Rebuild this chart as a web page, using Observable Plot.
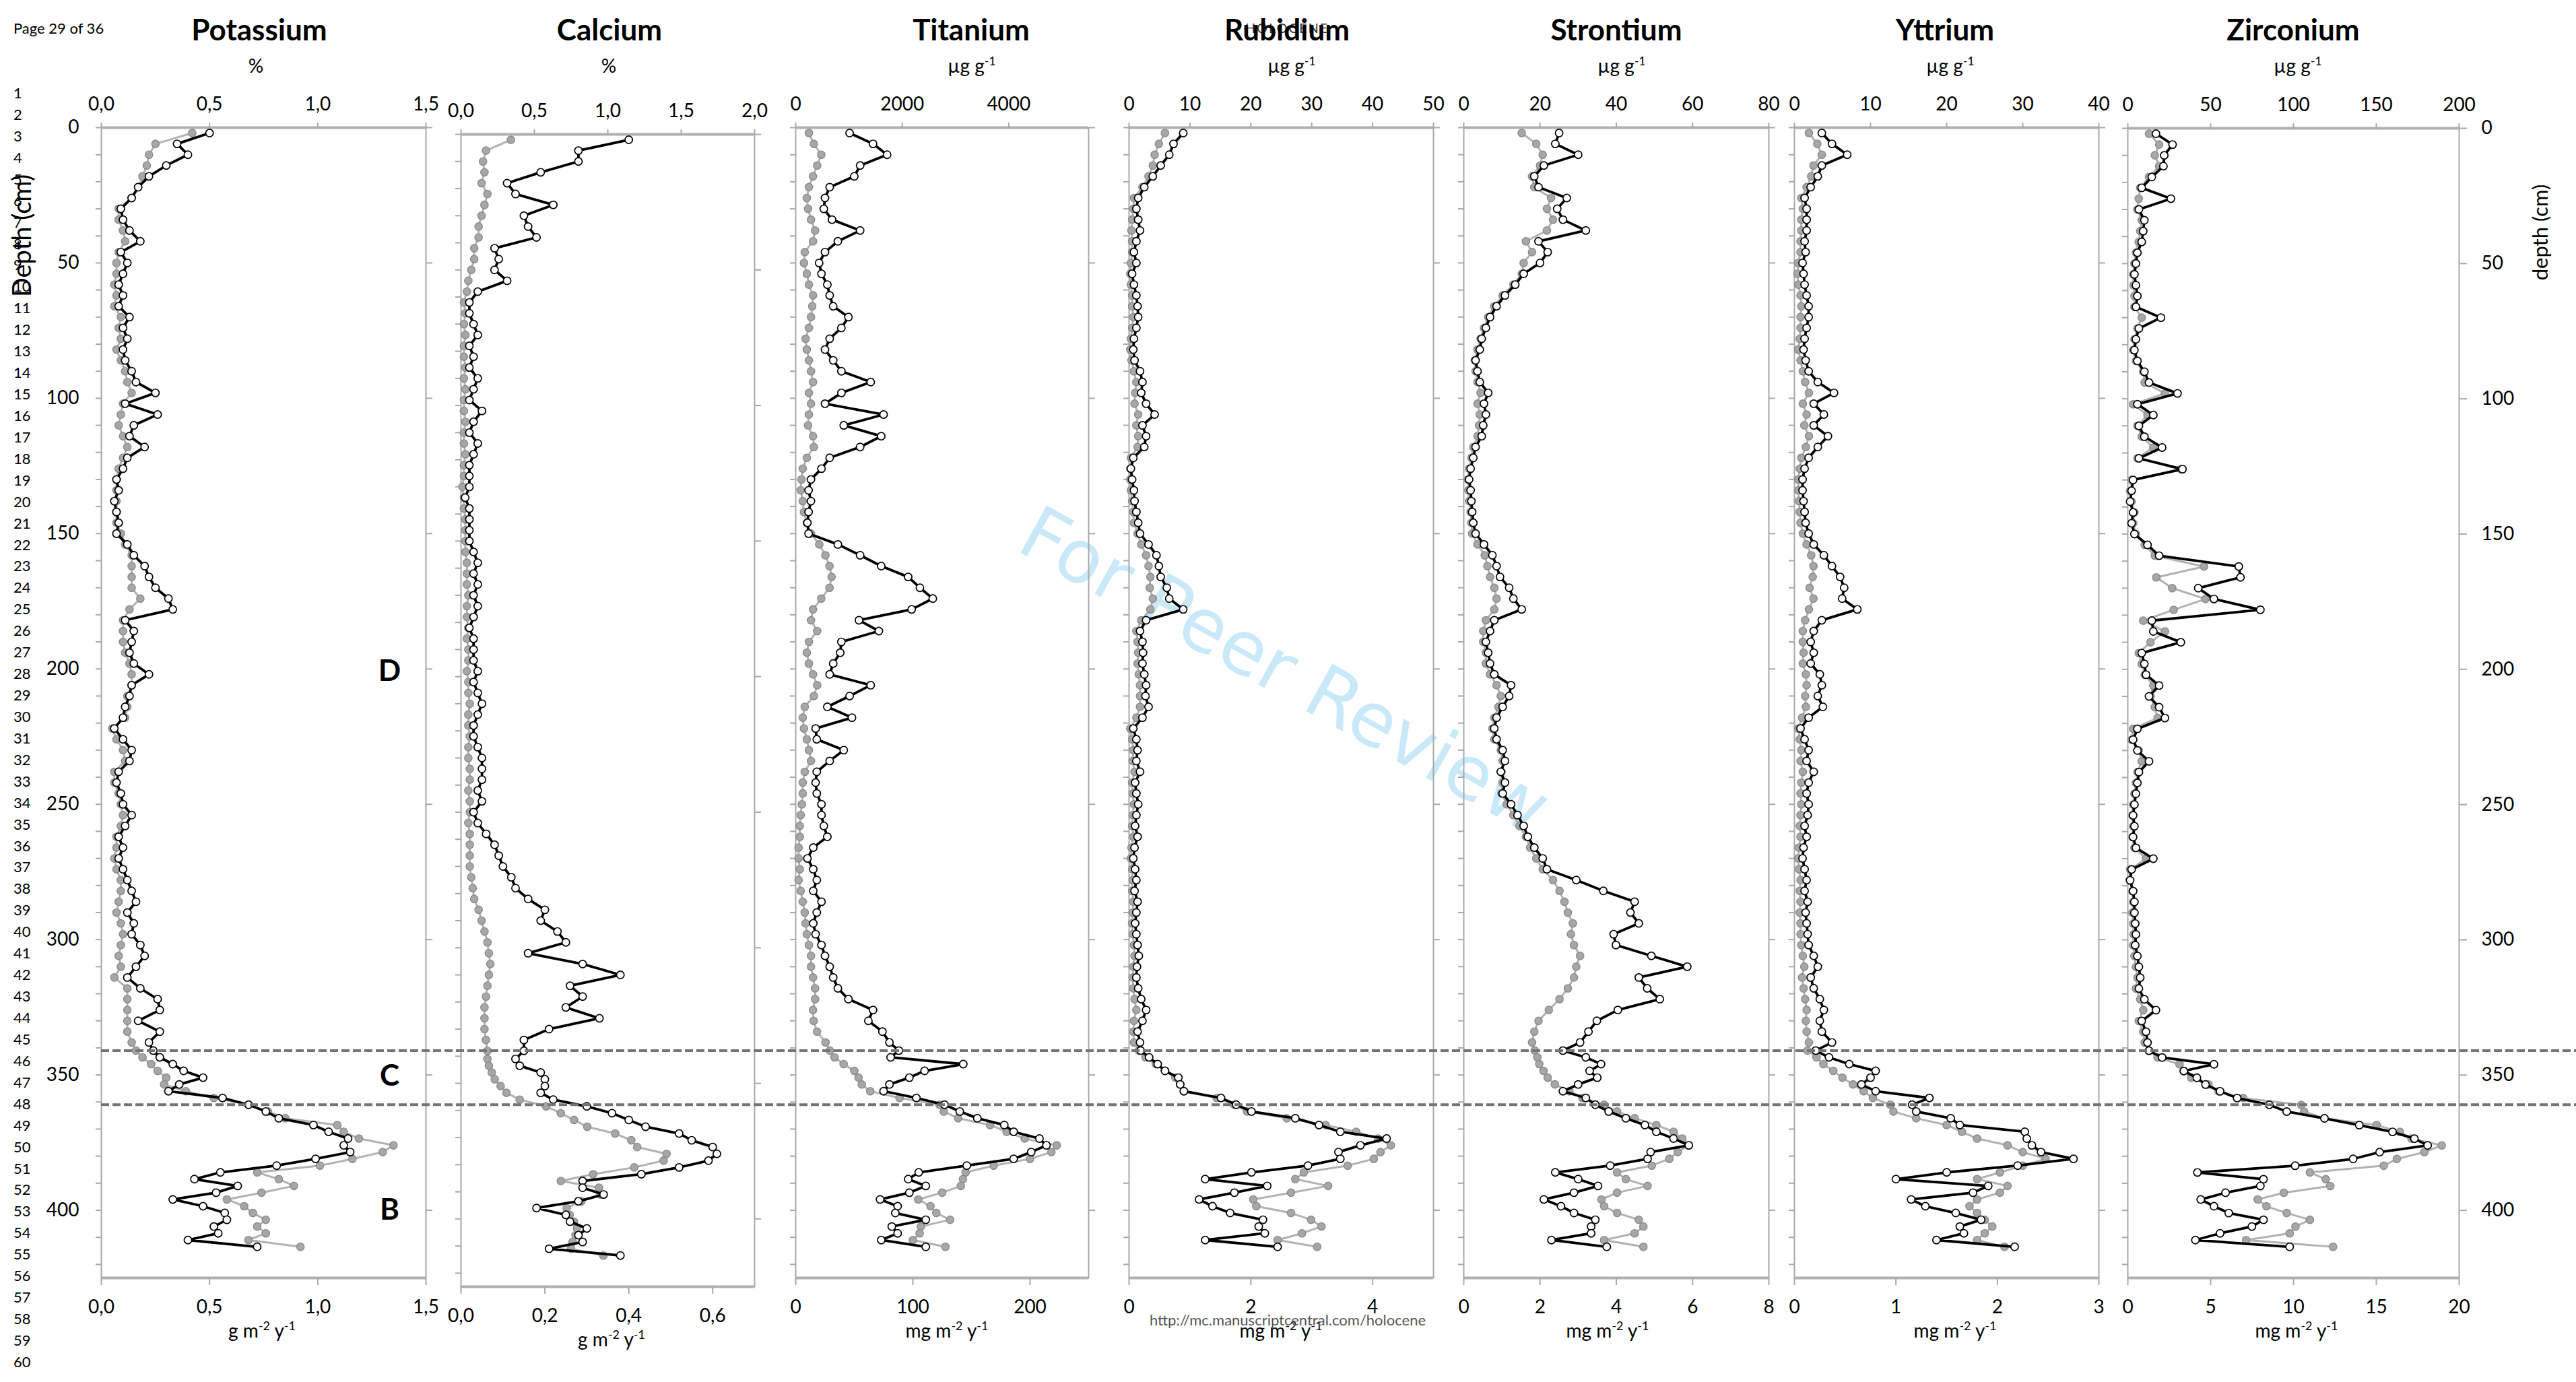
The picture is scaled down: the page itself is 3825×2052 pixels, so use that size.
<!DOCTYPE html>
<html>
<head>
<meta charset="utf-8">
<script src="https://cdn.jsdelivr.net/npm/d3@7"></script>
<script src="https://cdn.jsdelivr.net/npm/@observablehq/plot@0.6"></script>
<style>
html, body { margin:0; padding:0; background:#fff; }
#page { position:relative; width:3825px; height:2052px; overflow:hidden; background:#fff; }
#page > svg { position:absolute; margin:0; max-width:none; }
</style>
</head>
<body>
<div id="page"></div>
<script>
// ---------------- DATA ----------------
const depth = [2,6,10,14,18,22,26,30,34,38,42,46,50,54,58,62,66,70,74,78,82,86,90,94,98,102,106,110,114,118,122,126,130,134,138,142,146,150,154,158,162,166,170,174,178,182,186,190,194,198,202,206,210,214,218,222,226,230,234,238,242,246,250,254,258,262,266,270,274,278,282,286,290,294,298,302,306,310,314,318,322,326,330,334,338,
  341,343.5,346,348.5,351,353.5,356,358.5,361,363.5,366,368.5,371,373.5,376,378.5,381,383.5,386,388.5,391,393.5,396,398.5,401,403.5,406,408.5,411,413.5];

// grey = concentration (top axis), black = flux (bottom axis)
const potassiumConc = [0.42,0.25,0.22,0.21,0.19,0.17,0.14,0.08,0.08,0.10, 0.11,0.08,0.07,0.07,0.06,0.07,0.06,0.09,0.08,0.09, 0.07,0.09,0.11,0.12,0.14,0.10,0.09,0.08,0.10,0.12, 0.10,0.08,0.07,0.07,0.07,0.07,0.07,0.09,0.11,0.14, 0.14,0.14,0.14,0.18,0.13,0.10,0.10,0.10,0.11,0.13, 0.14,0.14,0.12,0.12,0.11,0.05,0.07,0.10,0.11,0.06, 0.06,0.08,0.09,0.10,0.09,0.07,0.07,0.06,0.07,0.09, 0.09,0.08,0.07,0.09,0.10,0.09,0.08,0.09,0.06,0.12, 0.12,0.12,0.12,0.12,0.14,
  0.16,0.19,0.23,0.26,0.30,0.29,0.39,0.52,0.68,0.77, 0.85,1.09,1.12,1.19,1.35,1.30,1.16,1.01,0.72,0.82, 0.89,0.74,0.58,0.66,0.70,0.76,0.72,0.76,0.68,0.92];
const potassiumFlux = [0.50,0.35,0.40,0.30,0.22,0.17,0.14,0.09,0.10,0.13, 0.18,0.09,0.12,0.10,0.08,0.10,0.08,0.13,0.10,0.12, 0.10,0.11,0.14,0.16,0.25,0.11,0.26,0.15,0.13,0.20, 0.12,0.10,0.07,0.08,0.06,0.07,0.08,0.07,0.12,0.15, 0.20,0.22,0.25,0.31,0.33,0.11,0.15,0.14,0.13,0.15, 0.22,0.14,0.13,0.11,0.10,0.06,0.10,0.14,0.13,0.08, 0.07,0.09,0.10,0.14,0.11,0.08,0.10,0.08,0.10,0.12, 0.14,0.16,0.12,0.15,0.14,0.18,0.20,0.16,0.12,0.18, 0.26,0.27,0.17,0.27,0.22,
  0.24,0.27,0.33,0.38,0.47,0.36,0.31,0.56,0.68,0.76, 0.82,0.98,1.05,1.14,1.12,1.15,0.99,0.81,0.55,0.43, 0.63,0.53,0.33,0.47,0.57,0.58,0.52,0.54,0.40,0.72];

const calciumConc = [0.34,0.17,0.15,0.16,0.14,0.18,0.16,0.14,0.12,0.12, 0.09,0.09,0.07,0.05,0.04,0.02,0.03,0.02,0.03,0.02, 0.02,0.03,0.02,0.03,0.02,0.02,0.03,0.02,0.02,0.03, 0.02,0.02,0.01,0.02,0.02,0.03,0.03,0.03,0.03,0.04, 0.04,0.04,0.05,0.04,0.04,0.05,0.04,0.05,0.05,0.04, 0.05,0.05,0.06,0.05,0.05,0.06,0.05,0.05,0.06,0.06, 0.05,0.06,0.06,0.05,0.06,0.06,0.06,0.06,0.07,0.08, 0.09,0.12,0.14,0.16,0.18,0.19,0.20,0.19,0.18,0.17, 0.16,0.16,0.16,0.17,0.18,
  0.18,0.19,0.21,0.23,0.27,0.31,0.40,0.58,0.68,0.77, 0.86,1.05,1.16,1.20,1.40,1.38,1.18,0.90,0.68,0.94, 0.95,0.82,0.72,0.74,0.77,0.79,0.78,0.76,0.75,0.97];
const calciumFlux = [0.40,0.28,0.28,0.19,0.11,0.13,0.22,0.15,0.16,0.18, 0.08,0.09,0.08,0.11,0.04,0.02,0.02,0.03,0.04,0.02, 0.03,0.02,0.04,0.03,0.02,0.05,0.03,0.02,0.04,0.03, 0.02,0.02,0.02,0.01,0.02,0.02,0.02,0.02,0.03,0.04, 0.03,0.04,0.03,0.04,0.03,0.02,0.03,0.03,0.03,0.04, 0.03,0.04,0.05,0.04,0.03,0.03,0.04,0.05,0.05,0.05, 0.04,0.05,0.03,0.04,0.06,0.08,0.09,0.10,0.12,0.13, 0.16,0.20,0.19,0.23,0.25,0.16,0.29,0.38,0.26,0.29, 0.25,0.33,0.21,0.15,0.15,
  0.13,0.14,0.19,0.20,0.20,0.19,0.22,0.30,0.36,0.40, 0.44,0.52,0.55,0.60,0.61,0.59,0.52,0.43,0.29,0.29, 0.34,0.28,0.18,0.25,0.26,0.30,0.28,0.29,0.21,0.38];

const titaniumConc = [248,341,480,403,325,248,209,232,287,364, 325,170,155,209,248,325,310,287,248,186, 209,248,287,325,248,287,248,232,325,341, 209,132,108,93,132,155,209,287,442,558, 635,674,635,480,325,287,403,248,209,248, 325,403,341,170,132,155,209,248,287,170, 132,132,116,93,77,77,54,54,77,54, 93,132,170,186,209,248,287,287,325,364, 364,325,337,400,560,
  641,730,900,1100,1180,1240,1400,1950,2700,2780, 3050,3650,3960,4300,4900,4800,4400,3718,3190,3140, 3100,2750,2300,2530,2640,2900,2350,2327,2200,2811];
const titaniumFlux = [46,66,78,55,50,29,25,24,31,55, 36,25,20,22,27,29,32,45,39,29, 25,32,39,64,39,25,75,41,73,55, 29,22,13,11,13,11,10,11,36,55, 73,96,106,117,99,54,71,39,38,32, 29,64,46,27,48,17,18,41,29,18, 17,18,22,22,24,27,15,10,15,18, 15,22,18,15,17,22,25,29,32,36, 45,66,62,74,80,
  88,81,143,110,97,80,75,103,127,140, 155,178,186,208,214,201,186,146,105,96, 111,97,72,87,85,111,82,87,73,111];

const rubidiumConc = [5.9,4.9,4.2,3.9,3.2,2.2,0.8,0.7,0.5,0.4, 0.5,0.5,0.3,0.2,0.3,0.5,0.5,0.7,0.5,0.3, 0.2,0.4,0.8,1.2,1.0,0.9,1.5,1.2,1.5,1.4, 0.3,0.2,0.2,0.3,0.5,0.7,0.8,1.4,2.0,2.8, 3.2,3.5,3.4,3.9,3.5,2.0,1.2,1.4,1.5,1.4, 1.6,1.8,1.8,1.8,1.2,0.2,0.5,0.7,0.6,0.9, 0.5,0.6,0.8,0.6,0.5,0.7,0.4,0.3,0.5,0.6, 0.5,0.7,0.6,0.5,0.6,0.8,0.9,0.7,0.6,0.7, 0.9,1.2,0.8,0.7,0.8,
  1.6,2.7,4.4,5.9,7.6,8.4,9.0,14.4,17.3,19.4, 25.9,32.3,37.3,40.9,43.0,41.3,40.2,35.9,28.7,27.3, 32.7,26.6,20.4,20.9,26.6,29.9,31.6,28.4,24.4,30.9];
const rubidiumFlux = [0.89,0.73,0.66,0.52,0.39,0.25,0.15,0.12,0.15,0.18, 0.12,0.08,0.12,0.05,0.08,0.12,0.14,0.15,0.12,0.08, 0.07,0.09,0.18,0.22,0.20,0.28,0.42,0.22,0.28,0.25, 0.07,0.03,0.05,0.08,0.09,0.12,0.15,0.18,0.32,0.45, 0.49,0.52,0.62,0.66,0.89,0.28,0.18,0.22,0.23,0.22, 0.25,0.28,0.27,0.32,0.22,0.07,0.12,0.14,0.12,0.18, 0.10,0.12,0.15,0.12,0.10,0.14,0.09,0.07,0.10,0.12, 0.09,0.14,0.12,0.10,0.12,0.14,0.16,0.13,0.12,0.15, 0.20,0.28,0.22,0.14,0.18,
  0.19,0.33,0.47,0.59,0.81,0.84,0.90,1.51,1.76,2.01, 2.73,3.12,3.47,4.23,3.80,3.44,3.47,2.94,2.01,1.25, 2.27,1.73,1.15,1.37,1.66,2.20,2.13,2.23,1.25,2.44];

const strontiumConc = [15.2,19,20.7,20,17.9,18.5,22.9,21.8,23.4,21.8, 16.3,17.9,15.7,15.2,13,10.2,8.0,6.4,5.3,4.4, 3.6,2.9,3.1,3.6,4.4,3.6,4.2,4.0,3.6,2.5, 2.0,1.4,1.1,1.2,1.4,1.8,2.0,2.2,3.6,5.5, 6.2,6.9,8.0,8.6,8.0,5.8,5.1,5.1,5.8,5.8, 6.9,8.6,9.7,9.1,8.0,7.5,8.0,9.7,10.2,9.9, 10.2,9.9,11.3,13,14.6,16.3,17.4,19,20.7,23.4, 25.1,26.4,27.3,28.6,28.1,28.9,30.5,29.5,28.9,27.3, 25.1,22.3,19.6,18.5,17.9,
  18.6,19.3,19.8,20.9,22.0,23.9,27.7,31.1,36.8,40.2, 44.8,50.5,55.0,57.3,59.0,56.1,53.9,49.3,40.2,42.5, 48.2,40.2,36.1,36.8,40.2,45.9,47.1,44.8,36.8,47.1];
const strontiumFlux = [2.5,2.4,3.0,2.1,1.85,1.96,2.7,2.45,2.6,3.2, 1.96,2.2,2.0,1.57,1.35,1.08,0.86,0.69,0.58,0.47, 0.42,0.31,0.36,0.42,0.64,0.53,0.58,0.51,0.47,0.31, 0.25,0.18,0.14,0.18,0.20,0.22,0.25,0.31,0.53,0.75, 0.86,0.95,1.19,1.30,1.52,0.80,0.69,0.58,0.64,0.69, 0.80,1.24,1.19,1.02,0.86,0.80,0.86,1.02,1.08,0.97, 1.08,1.02,1.24,1.41,1.57,1.68,1.85,2.07,2.18,2.95, 3.66,4.48,4.37,4.59,3.93,3.99,4.92,5.86,4.59,4.81, 5.14,4.04,3.49,3.27,3.05,
  2.6,3.2,3.6,3.3,3.5,3.0,2.6,3.2,3.45,3.8, 4.25,4.75,5.05,5.5,5.9,4.9,4.82,3.84,2.4,3.0, 3.52,2.89,2.1,2.55,2.89,3.45,3.34,3.34,2.3,3.75];

const yttriumConc = [1.9,3.0,3.6,2.5,2.2,1.6,0.9,1.1,0.9,0.9, 0.8,0.8,0.5,0.4,0.5,0.8,0.9,0.8,0.8,0.7, 0.5,0.8,1.1,1.4,1.9,1.1,1.6,1.3,1.9,1.5, 0.9,0.7,0.5,0.5,0.6,0.7,0.8,1.1,1.6,2.2, 2.5,2.4,2.0,2.5,1.9,1.4,1.1,1.1,1.2,1.1, 1.5,1.6,1.4,1.5,1.0,0.5,0.7,0.9,0.8,1.1, 0.9,0.8,0.9,0.8,0.7,0.8,0.6,0.5,0.6,0.8, 0.7,0.8,0.7,0.8,0.8,0.9,1.1,1.3,1.0,1.2, 1.4,1.6,1.5,1.6,1.9,
  1.7,2.9,3.8,5.1,6.3,7.7,9.1,10.3,12.6,13.0, 16.0,20.0,22.0,24.0,28.0,30.0,33.0,30.0,27.0,24.0, 28.0,27.0,24.0,23.0,24.0,25.0,26.0,25.0,24.0,27.6];
const yttriumFlux = [0.27,0.37,0.52,0.27,0.23,0.16,0.10,0.12,0.12,0.12, 0.10,0.11,0.08,0.09,0.10,0.12,0.14,0.14,0.12,0.10, 0.09,0.11,0.14,0.23,0.39,0.19,0.29,0.19,0.33,0.23, 0.14,0.10,0.08,0.08,0.09,0.10,0.11,0.14,0.19,0.29, 0.37,0.45,0.49,0.47,0.62,0.27,0.19,0.16,0.19,0.16, 0.25,0.27,0.23,0.28,0.14,0.06,0.10,0.14,0.12,0.19, 0.14,0.12,0.14,0.13,0.10,0.12,0.09,0.08,0.10,0.12, 0.10,0.13,0.11,0.12,0.13,0.14,0.19,0.23,0.16,0.19, 0.25,0.29,0.25,0.27,0.37,
  0.21,0.34,0.54,0.80,0.75,0.66,0.80,1.33,1.16,1.20, 1.54,1.63,2.27,2.29,2.34,2.43,2.75,2.20,1.50,1.00, 1.91,1.76,1.15,1.29,1.59,1.84,1.63,1.67,1.40,2.17];

const zirconiumConc = [12.8,18.9,16.3,18.9,12.8,7.5,6.6,5.8,8.4,7.5, 6.6,4.9,4.0,3.2,3.5,4.0,4.0,8.4,5.8,4.0, 3.2,4.9,9.3,10.2,22.4,3.2,11.9,5.8,8.4,15.4, 5.8,32.0,2.3,1.4,2.3,4.0,3.2,4.9,10.2,16.3, 46.0,17.2,26.8,46.9,27.7,9.3,22.4,13.7,6.6,8.4, 10.2,15.4,13.7,16.3,18.0,3.2,2.3,6.6,8.4,5.8, 4.9,4.0,3.2,2.8,3.2,2.8,4.0,11.0,1.4,1.1, 2.8,3.2,2.8,3.2,3.5,3.2,4.0,4.9,5.8,4.9, 7.5,9.3,6.6,9.3,10.2,
  12.8,18.0,31.2,33.8,38.2,48.7,54.8,69.7,104.7,106.4, 118.7,150.2,164.2,171.2,189.5,179.0,162.4,154.5,109.9,119.5, 122.2,94.2,78.4,83.7,95.9,109.9,101.2,97.7,71.4,123.9];
const zirconiumFlux = [1.7,2.7,2.2,2.15,1.45,0.84,2.6,0.67,1.0,0.93, 0.84,0.58,0.49,0.40,0.49,0.58,0.49,2.0,0.67,0.49, 0.40,0.58,1.0,1.28,3.0,0.58,1.54,0.67,1.0,2.07, 0.67,3.3,0.32,0.23,0.14,0.32,0.23,0.40,1.19,1.89, 6.7,6.8,4.25,5.2,8.0,1.45,1.54,3.2,0.84,1.0, 1.1,1.89,1.28,1.89,2.24,0.58,0.32,0.58,1.28,0.67, 0.58,0.49,0.40,0.32,0.40,0.32,0.49,1.54,0.23,0.14, 0.32,0.40,0.40,0.45,0.49,0.45,0.58,0.67,0.75,0.67, 1.0,1.7,0.84,1.1,1.19,
  1.28,2.07,5.2,3.38,4.17,4.69,5.57,6.6,8.54,9.59, 11.87,13.97,15.98,17.3,18.1,15.2,13.6,10.1,4.2,8.19, 8.0,5.9,4.4,5.2,6.09,8.19,7.49,5.57,4.08,9.77];

// tick values
const kTopTicks = [0, 0.5, 1.0, 1.5], kBotTicks = [0, 0.5, 1.0, 1.5];
const caTopTicks = [0, 0.5, 1.0, 1.5, 2.0], caBotTicks = [0, 0.2, 0.4, 0.6];
const tiTopTicks = [0, 2000, 4000], tiBotTicks = [0, 100, 200];
const rbTopTicks = [0, 10, 20, 30, 40, 50], rbBotTicks = [0, 2, 4];
const srTopTicks = [0, 20, 40, 60, 80], srBotTicks = [0, 2, 4, 6, 8];
const yTopTicks = [0, 10, 20, 30, 40], yBotTicks = [0, 1, 2, 3];
const zrTopTicks = [0, 50, 100, 150, 200], zrBotTicks = [0, 5, 10, 15, 20];
const depthDomain = [0, 425];
const depthMajor = [0, 50, 100, 150, 200, 250, 300, 350, 400];
const depthMinor = [0, 10, 20, 30, 40, 50, 60, 70, 80, 90, 100, 110, 120, 130, 140, 150, 160, 170, 180, 190, 200, 210, 220, 230, 240, 250, 260, 270, 280, 290, 300, 310, 320, 330, 340, 350, 360, 370, 380, 390, 400, 410, 420];
const zoneBoundaries = [341, 361];
const zoneLabels = ["D", "C", "B"];
const zoneLabelDepths = [201, 350.5, 400];
const lineNumbers = [1,2,3,4,5,6,7,8,9,10,11,12,13,14,15,16,17,18,19,20,21,22,23,24,25,26,27,28,29,30,31,32,33,34,35,36,37,38,39,40,41,42,43,44,45,46,47,48,49,50,51,52,53,54,55,56,57,58,59,60];

// ---------------- LAYOUT ----------------
const fmtComma = v => v.toFixed(1).replace(".", ",");
const fmtInt = v => String(v);
const UNIT_PCT = [["%", 0]];
const UNIT_UG = [["\u00b5g g", 0], ["-1", 1]];
const UNIT_G = [["g m", 0], ["-2", 1], [" y", 0], ["-1", 1]];
const UNIT_MG = [["mg m", 0], ["-2", 1], [" y", 0], ["-1", 1]];

const panels = [
  {title: "Potassium", conc: potassiumConc, flux: potassiumFlux, top: [0, 1.5], bot: [0, 1.5], topTicks: kTopTicks, botTicks: kBotTicks, topFmt: fmtComma, botFmt: fmtComma, topUnit: UNIT_PCT, botUnit: UNIT_G, box: [150, 632, 189, 1897], titleX: 385, topUnitX: 380, botUnitX: 389, leftLabels: true, zones: true},
  {title: "Calcium", conc: calciumConc, flux: calciumFlux, top: [0, 2], bot: [0, 0.7], topTicks: caTopTicks, botTicks: caBotTicks, topFmt: fmtComma, botFmt: fmtComma, topUnit: UNIT_PCT, botUnit: UNIT_G, box: [684, 1120, 199, 1910], titleX: 905, topUnitX: 904, botUnitX: 908},
  {title: "Titanium", conc: titaniumConc, flux: titaniumFlux, top: [0, 5500], bot: [0, 250], topTicks: tiTopTicks, botTicks: tiBotTicks, topFmt: fmtInt, botFmt: fmtInt, topUnit: UNIT_UG, botUnit: UNIT_MG, box: [1181, 1616, 189, 1897], titleX: 1442, topUnitX: 1443, botUnitX: 1406},
  {title: "Rubidium", conc: rubidiumConc, flux: rubidiumFlux, top: [0, 50], bot: [0, 5], topTicks: rbTopTicks, botTicks: rbBotTicks, topFmt: fmtInt, botFmt: fmtInt, topUnit: UNIT_UG, botUnit: UNIT_MG, box: [1676, 2128, 189, 1897], titleX: 1911, topUnitX: 1918, botUnitX: 1902},
  {title: "Strontium", conc: strontiumConc, flux: strontiumFlux, top: [0, 80], bot: [0, 8], topTicks: srTopTicks, botTicks: srBotTicks, topFmt: fmtInt, botFmt: fmtInt, topUnit: UNIT_UG, botUnit: UNIT_MG, box: [2173, 2626, 189, 1897], titleX: 2400, topUnitX: 2408, botUnitX: 2387},
  {title: "Yttrium", conc: yttriumConc, flux: yttriumFlux, top: [0, 40], bot: [0, 3], topTicks: yTopTicks, botTicks: yBotTicks, topFmt: fmtInt, botFmt: fmtInt, topUnit: UNIT_UG, botUnit: UNIT_MG, box: [2664, 3116, 189, 1897], titleX: 2888, topUnitX: 2896, botUnitX: 2903},
  {title: "Zirconium", conc: zirconiumConc, flux: zirconiumFlux, top: [0, 200], bot: [0, 20], topTicks: zrTopTicks, botTicks: zrBotTicks, topFmt: fmtInt, botFmt: fmtInt, topUnit: UNIT_UG, botUnit: UNIT_MG, box: [3159, 3651, 190, 1897], titleX: 3405, topUnitX: 3412, botUnitX: 3410, rightLabels: true}
];

const FONT = "Lato, 'Liberation Sans', sans-serif";
const AXIS_GREY = "#a8a8a8";
const M = {top: 130, bottom: 130, left: 110, right: 110};
const page = document.getElementById("page");

function place(svg, left, top, z) {
  svg.style.position = "absolute";
  svg.style.left = left + "px";
  svg.style.top = top + "px";
  svg.style.zIndex = z;
  svg.style.maxWidth = "none";
  page.appendChild(svg);
}

// ---------------- WATERMARK (behind everything) ----------------
{
  const svg = d3.create("svg").attr("width", 3825).attr("height", 2052);
  svg.append("text")
    .attr("x", 1908).attr("y", 995)
    .attr("text-anchor", "middle").attr("dominant-baseline", "central")
    .attr("transform", "rotate(29 1908 995)")
    .attr("font-family", "'DejaVu Sans', Verdana, sans-serif")
    .attr("font-size", 110)
    .attr("fill", "#c9e9f9")
    .text("For Peer Review");
  place(svg.node(), 0, 0, 0);
}

// ---------------- PANELS ----------------
panels.forEach(p => {
  const [L, R, T, B] = p.box;
  const w = R - L, h = B - T;
  const rows = depth.map((d, i) => ({depth: d, conc: p.conc[i], flux: p.flux[i]}));
  const common = {
    width: w + M.left + M.right, height: h + M.top + M.bottom,
    marginTop: M.top, marginBottom: M.bottom, marginLeft: M.left, marginRight: M.right,
    style: {background: "transparent", overflow: "visible", fontFamily: FONT, color: "#000"}
  };

  const greyMarks = [
    Plot.frame({stroke: AXIS_GREY, strokeWidth: 2}),
    Plot.ruleY([depthDomain[0]], {stroke: "#b0b0b0", strokeWidth: 4}),
    Plot.axisX({anchor: "top", ticks: p.topTicks, tickFormat: p.topFmt, tickSize: 8, tickPadding: 18, fontSize: 28, stroke: AXIS_GREY, strokeWidth: 2, fill: "#000", label: null}),
    Plot.axisY({anchor: "left", ticks: depthMinor, tickFormat: () => "", tickSize: 8, stroke: AXIS_GREY, strokeWidth: 2, label: null}),
    Plot.axisY({anchor: "right", ticks: depthMajor, tickFormat: () => "", tickSize: p.rightLabels ? 11 : 9, stroke: AXIS_GREY, strokeWidth: 2, label: null})
  ];
  if (p.leftLabels) greyMarks.push(Plot.axisY({anchor: "left", ticks: depthMajor, tickFormat: fmtInt, tickSize: 0, tickPadding: 33, fontSize: 28, fill: "#000", label: null}));
  if (p.rightLabels) greyMarks.push(Plot.axisY({anchor: "right", ticks: depthMajor, tickFormat: fmtInt, tickSize: 0, tickPadding: 33, fontSize: 28, fill: "#000", label: null}));
  greyMarks.push(
    Plot.line(rows, {x: "conc", y: "depth", stroke: "#b2b2b2", strokeWidth: 3}),
    Plot.dot(rows, {x: "conc", y: "depth", r: 5.6, fill: "#a7a7a7", stroke: "#8a8a8a", strokeWidth: 1.4})
  );
  const greyPlot = Plot.plot({...common, x: {domain: p.top}, y: {domain: depthDomain, reverse: true}, marks: greyMarks});
  place(greyPlot, L - M.left, T - M.top, 1);

  const blackMarks = [
    Plot.ruleY([depthDomain[1]], {stroke: "#b0b0b0", strokeWidth: 4}),
    Plot.axisX({anchor: "bottom", ticks: p.botTicks, tickFormat: p.botFmt, tickSize: 11, tickPadding: 22, fontSize: 28, stroke: AXIS_GREY, strokeWidth: 2, fill: "#000", label: null}),
    Plot.line(rows, {x: "flux", y: "depth", stroke: "#000", strokeWidth: 3.8}),
    Plot.dot(rows, {x: "flux", y: "depth", r: 5.6, fill: "#fff", stroke: "#000", strokeWidth: 1.7})
  ];
  if (p.zones) {
    blackMarks.push(Plot.text(zoneLabels.map((t, i) => ({t, d: zoneLabelDepths[i]})), {
      y: "d", text: "t", frameAnchor: "right", dx: -54, textAnchor: "middle",
      fontSize: 44, fontWeight: "bold", fill: "#000"
    }));
  }
  const blackPlot = Plot.plot({...common, x: {domain: p.bot}, y: {domain: depthDomain, reverse: true, axis: null}, marks: blackMarks});
  place(blackPlot, L - M.left, T - M.top, 2);
});

// ---------------- ZONE BOUNDARIES (dashed, across the figure) ----------------
{
  const K = panels[0].box;
  const dash = Plot.plot({
    width: 3825, height: 2052, marginLeft: K[0], marginRight: 0, marginTop: K[2], marginBottom: 2052 - K[3],
    y: {domain: depthDomain, reverse: true, axis: null},
    style: {background: "transparent", overflow: "visible"},
    marks: [Plot.ruleY(zoneBoundaries, {stroke: "#747474", strokeWidth: 4, strokeDasharray: "12,5"})]
  });
  place(dash, 0, 0, 3);
}

// ---------------- PAGE TEXT ----------------
{
  const svg = d3.create("svg").attr("width", 3825).attr("height", 2052)
    .attr("font-family", FONT).style("overflow", "visible");

  function unit(x, y, segs, size) {
    const t = svg.append("text").attr("x", x).attr("y", y).attr("text-anchor", "middle").attr("font-size", size).attr("fill", "#000");
    let up = false;
    segs.forEach(([s, sup]) => {
      const ts = t.append("tspan").text(s);
      if (sup) {
        ts.attr("font-size", size * 0.64);
        if (!up) { ts.attr("dy", -size * 0.4); up = true; }
      } else if (up) { ts.attr("dy", size * 0.4); up = false; }
    });
  }

  svg.append("text").attr("x", 20).attr("y", 50).attr("font-size", 22).text("Page 29 of 36");
  svg.append("text").attr("x", 1911).attr("y", 49).attr("text-anchor", "middle").attr("font-size", 20).attr("letter-spacing", 2).attr("fill", "#333").text("HOLOCENE");

  panels.forEach(p => {
    svg.append("text").attr("x", p.titleX).attr("y", 60).attr("text-anchor", "middle")
      .attr("font-size", 44).attr("font-weight", 700).text(p.title);
    unit(p.topUnitX, 108, p.topUnit, 28);
    unit(p.botUnitX, p.box[3] + 89, p.botUnit, 28);
  });

  // manuscript line numbers
  svg.append("g").attr("font-size", 22).selectAll("text").data(lineNumbers).join("text")
    .attr("x", 20).attr("y", (d, i) => 146 + i * 31.93).text(d => d);

  svg.append("text").attr("transform", "translate(46,350) rotate(-90)").attr("text-anchor", "middle")
    .attr("font-size", 38).text("Depth (cm)");
  svg.append("text").attr("transform", "translate(3783,345) rotate(-90)").attr("text-anchor", "middle")
    .attr("font-size", 31).text("depth (cm)");

  svg.append("text").attr("x", 1912).attr("y", 1968).attr("text-anchor", "middle")
    .attr("font-size", 22).attr("fill", "#555").text("http://mc.manuscriptcentral.com/holocene");

  place(svg.node(), 0, 0, 4);
}
</script>
</body>
</html>
